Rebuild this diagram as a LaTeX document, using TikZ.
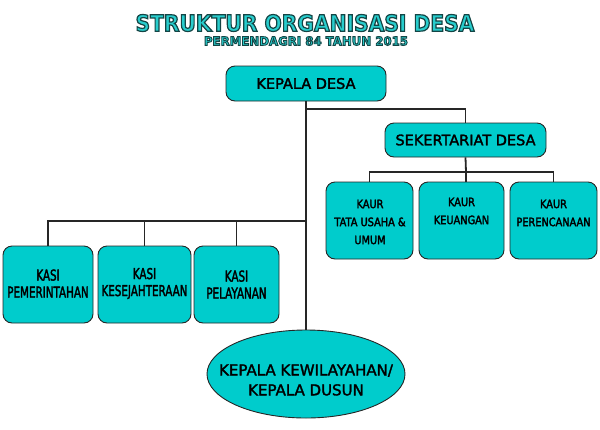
\documentclass[tikz,border=0pt]{standalone}
\usepackage{fontspec}
\setmainfont{DejaVu Sans}
\newfontfamily\boxf{DejaVu Sans}
\newfontfamily\kasif[FakeStretch=0.69]{DejaVu Sans}
\newfontfamily\kaurf[FakeStretch=0.85]{DejaVu Sans}
\newfontfamily\titlef[FakeStretch=0.90]{DejaVu Sans Bold}
\newfontfamily\subf[FakeStretch=0.98]{DejaVu Sans Bold}
\usetikzlibrary{shapes.geometric}
\definecolor{boxcyan}{RGB}{0,204,204}
\definecolor{titlecyan}{RGB}{40,205,205}
\newcommand{\heavytxt}[1]{\special{pdf:literal direct 2 Tr 0.3 w}#1\special{pdf:literal direct 0 Tr}}
\newcommand{\outlinetxt}[2]{\textcolor{titlecyan}{\special{pdf:literal direct 2 Tr #1 w 0.08 0.27 0.27 RG}#2\special{pdf:literal direct 0 Tr}}}
\tikzset{
  box/.style={draw=black!85, line width=0.9pt, fill=boxcyan, rounded corners=9pt, inner sep=0pt},
  conn/.style={draw=black!85, line width=1.8pt},
  bigtxt/.style={font=\boxf\fontsize{14.5}{18}\selectfont, text=black},
  kasitxt/.style={font=\kasif\fontsize{15}{17}\selectfont, align=center, inner sep=0pt},
  kaurtxt/.style={font=\kaurf\fontsize{11.5}{18}\selectfont, align=center, inner sep=0pt},
}
\begin{document}
\begin{tikzpicture}[x=1pt,y=-1pt]
\useasboundingbox (0,0) rectangle (600,429);
% title
\node (title) at (305,23) {\titlef\fontsize{22.5}{26}\selectfont\outlinetxt{1.2}{STRUKTUR ORGANISASI DESA}};
\node (subtitle) at (306,41) {\subf\fontsize{12}{14}\selectfont\outlinetxt{0.9}{PERMENDAGRI 84 TAHUN 2015}};
% boxes
\node[box, bigtxt, minimum width=160pt, minimum height=35pt] (kd) at (306,83.5) {\heavytxt{KEPALA DESA}};
\node[box, bigtxt, minimum width=161pt, minimum height=34pt] (sek) at (465.5,140) {\heavytxt{SEKERTARIAT DESA}};
\node[box, minimum width=87pt, minimum height=77pt] (kaur1) at (369.5,220.5) {};
\node[box, minimum width=85pt, minimum height=77pt] (kaur2) at (461.5,220.5) {};
\node[box, minimum width=87pt, minimum height=77pt] (kaur3) at (553.5,220.5) {};
\node[kaurtxt] (kaur1t) at (370,222) {\heavytxt{KAUR}\\\heavytxt{TATA USAHA \&}\\\heavytxt{UMUM}};
\node[kaurtxt] (kaur2t) at (461.5,211) {\heavytxt{KAUR}\\\heavytxt{KEUANGAN}};
\node[kaurtxt] (kaur3t) at (553.5,213) {\heavytxt{KAUR}\\\heavytxt{PERENCANAAN}};
\node[box, minimum width=90pt, minimum height=77pt] (kasi1) at (48,284.5) {};
\node[box, minimum width=93pt, minimum height=77pt] (kasi2) at (144.5,284.5) {};
\node[box, minimum width=85pt, minimum height=77pt] (kasi3) at (236.5,284.5) {};
\node[kasitxt] (kasi1t) at (48,283.5) {\heavytxt{KASI}\\\heavytxt{PEMERINTAHAN}};
\node[kasitxt] (kasi2t) at (144.5,283.5) {\heavytxt{KASI}\\\heavytxt{KESEJAHTERAAN}};
\node[kasitxt] (kasi3t) at (236.5,284.5) {\heavytxt{KASI}\\\heavytxt{PELAYANAN}};
\node[ellipse, draw=black!85, line width=0.9pt, fill=boxcyan, minimum width=198pt, minimum height=88pt, inner sep=0pt] (kdw) at (306,374) {};
\node[font=\boxf\fontsize{15}{20}\selectfont, align=center, inner sep=0pt] (kdwt) at (306,380) {\heavytxt{KEPALA KEWILAYAHAN/}\\\heavytxt{KEPALA DUSUN}};
% connectors
\coordinate (j1) at (306,109);
\coordinate (h2) at (466,172);
\coordinate (h3) at (306,221);
\draw[conn] (kd.south) -- (kdw.north);
\draw[conn] (j1) -| (sek.north);
\draw[conn] (sek.south) -- (h2);
\draw[conn] (kaur1.north) |- (h2) -| (kaur3.north);
\draw[conn] (h2) -- (h2 |- kaur2.north);
\draw[conn] (kasi1.north) |- (h3);
\draw[conn] (kasi2.north) -- (kasi2.north |- h3);
\draw[conn] (kasi3.north) -- (kasi3.north |- h3);
\end{tikzpicture}
\end{document}
